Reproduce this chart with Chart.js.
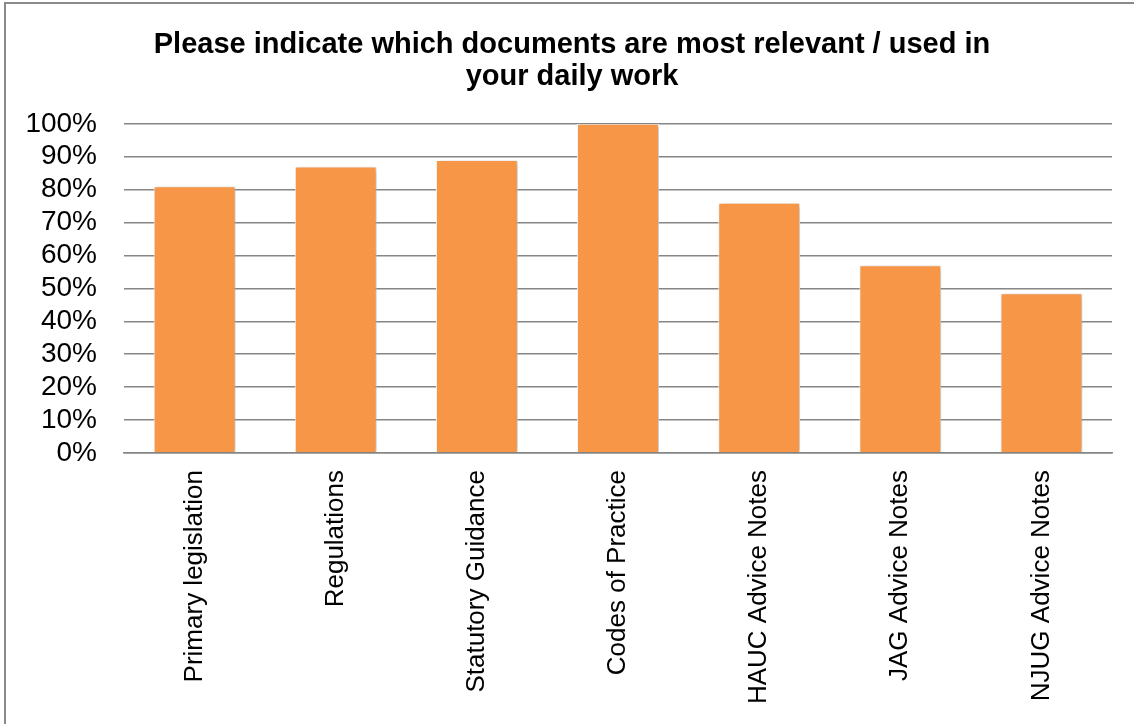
<!DOCTYPE html>
<html>
<head>
<meta charset="utf-8">
<script src="https://cdn.jsdelivr.net/npm/chart.js@4/dist/chart.umd.min.js"></script>
<style>
  html, body { margin: 0; padding: 0; background: #fff; }
  #wrap { width: 1134px; height: 724px; position: relative; }
</style>
</head>
<body>
<div id="wrap"><canvas id="docChart" width="1134" height="724"></canvas></div>
<script>
const categories = ['Primary legislation', 'Regulations', 'Statutory Guidance', 'Codes of Practice',
    'HAUC Advice Notes', 'JAG Advice Notes', 'NJUG Advice Notes'];
const relevantPct = [81, 87, 89, 100, 76, 57, 48.5];
const titleLines = ['Please indicate which documents are most relevant / used in', 'your daily work'];

// outer frame (only left and top edges are visible in the picture)
const framePlugin = {
    id: 'frame',
    beforeDraw(chart) {
        const ctx = chart.ctx;
        ctx.save();
        ctx.strokeStyle = '#8a8a8a';
        ctx.lineWidth = 2;
        ctx.beginPath();
        ctx.moveTo(5, 724);
        ctx.lineTo(5, 3);
        ctx.lineTo(1134, 3);
        ctx.stroke();
        ctx.restore();
    }
};

// soft shadow behind the bars
const shadowPlugin = {
    id: 'barShadow',
    beforeDatasetsDraw(chart) {
        const ctx = chart.ctx;
        ctx.save();
        ctx.shadowColor = 'rgba(0,0,0,0.3)';
        ctx.shadowBlur = 5;
        ctx.shadowOffsetX = 2;
        ctx.shadowOffsetY = 1;
    },
    afterDatasetsDraw(chart) {
        chart.ctx.restore();
    }
};

Chart.defaults.font.family = '"Liberation Sans", Arial, sans-serif';
Chart.defaults.color = '#000';

new Chart(document.getElementById('docChart').getContext('2d'), {
    type: 'bar',
    data: {
        labels: categories,
        datasets: [{
            data: relevantPct,
            backgroundColor: '#F79646',
            borderColor: '#ffffff',
            borderWidth: 1,
            barPercentage: 0.58,
            categoryPercentage: 1
        }]
    },
    options: {
        responsive: false,
        animation: false,
        layout: { padding: { left: 10, right: 0, top: 0, bottom: 0 } },
        plugins: {
            legend: { display: false },
            tooltip: { enabled: false },
            title: {
                display: true,
                text: titleLines,
                font: { size: 29, weight: 'bold', lineHeight: 1.1 },
                padding: { top: 29, bottom: 31 }
            }
        },
        scales: {
            x: {
                grid: { display: false, drawTicks: false },
                border: { display: true, color: '#868686', width: 1.5 },
                ticks: {
                    minRotation: 90,
                    maxRotation: 90,
                    padding: 17,
                    font: { size: 26 }
                },
                afterFit(scale) { scale.height = 271; }
            },
            y: {
                min: 0,
                max: 100,
                grid: { color: '#868686', lineWidth: 1.5, drawTicks: false },
                border: { display: false },
                ticks: {
                    stepSize: 10,
                    autoSkip: false,
                    padding: 27,
                    font: { size: 28 },
                    callback: v => v + '%'
                },
                afterFit(scale) { scale.width = 114; }
            },
            // empty right-hand space so the plot ends where the original does
            yRight: {
                position: 'right',
                min: 0,
                max: 100,
                grid: { display: false, drawTicks: false },
                border: { display: false },
                ticks: { display: false },
                afterFit(scale) { scale.width = 22; }
            }
        }
    },
    plugins: [framePlugin, shadowPlugin]
});
</script>
</body>
</html>
